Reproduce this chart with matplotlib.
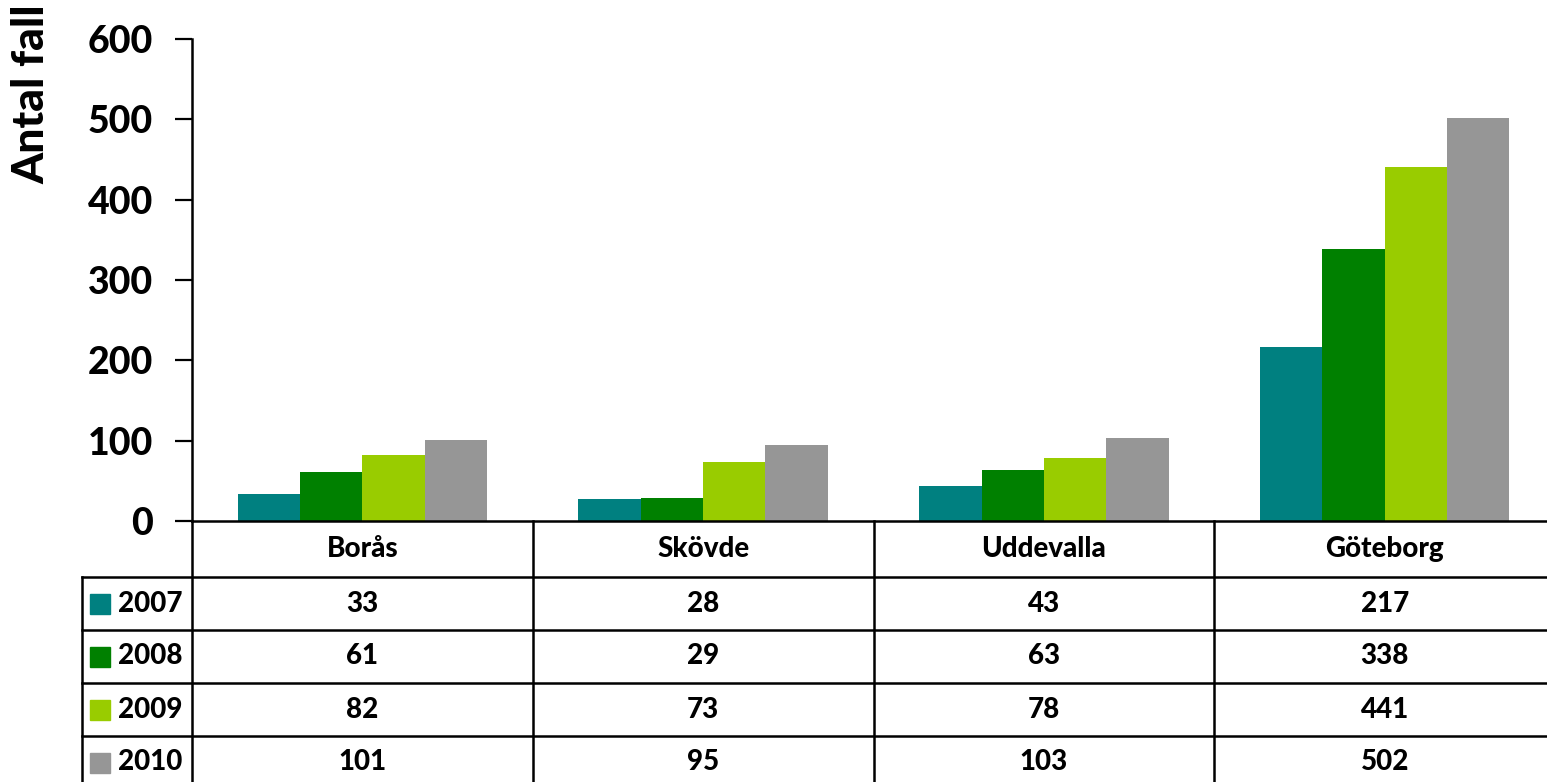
import matplotlib.pyplot as plt
from matplotlib.patches import Rectangle
import numpy as np

# data
cities = ['Borås', 'Skövde', 'Uddevalla', 'Göteborg']
years = ['2007', '2008', '2009', '2010']
v2007 = [33, 28, 43, 217]
v2008 = [61, 29, 63, 338]
v2009 = [82, 73, 78, 441]
v2010 = [101, 95, 103, 502]
colors = ['#008080', '#008000', '#99CC00', '#969696']
series = [v2007, v2008, v2009, v2010]

plt.rcParams['font.family'] = ['Lato', 'DejaVu Sans']
plt.rcParams['font.weight'] = 'black'

W, H = 1547, 782
fig = plt.figure(figsize=(W / 100, H / 100), dpi=100)

# main plot area (pixel layout)
px_left, px_right, px_zero, px_top = 192, 1555, 521, 39
ax = fig.add_axes([px_left / W, 1 - px_zero / H,
                   (px_right - px_left) / W, (px_zero - px_top) / H])

x = np.arange(len(cities))
bw = 0.183
for i, (vals, c) in enumerate(zip(series, colors)):
    ax.bar(x + (i - 1.5) * bw, vals, bw, color=c, linewidth=0)

ax.set_xlim(-0.5, len(cities) - 0.5)
ax.set_ylim(0, 600)
ax.set_xticks([])
ax.set_yticks(range(0, 601, 100))
ax.tick_params(axis='y', length=12, width=1.6, pad=16, labelsize=27)
for s in ['top', 'right']:
    ax.spines[s].set_visible(False)
for s in ['left', 'bottom']:
    ax.spines[s].set_linewidth(1.8)
ax.spines['bottom'].set_capstyle('projecting')

fig.text(31 / W, 1 - 94 / H, 'Antal fall', rotation=90, ha='center', va='center',
         fontsize=32, fontweight='black')

# data table under the chart
cat_px = (px_right - px_left) / len(cities)
label_px = px_left - 82
head_h, row_h = 56, 53
tab_h = head_h + row_h * len(years)
tax = fig.add_axes([82 / W, 1 - (px_zero + tab_h) / H,
                    (px_right - 82) / W, tab_h / H])
xl = -0.5 - label_px / cat_px
tax.set_xlim(xl, len(cities) - 0.5)
tax.set_ylim(tab_h, 0)
tax.axis('off')

lw = 1.8
for k in range(len(years) + 1):
    yy = head_h + k * row_h
    tax.plot([xl, len(cities) - 0.5], [yy, yy], color='black', lw=lw, clip_on=False)
for k in range(len(cities)):
    tax.plot([k - 0.5, k - 0.5], [0, tab_h], color='black', lw=lw, clip_on=False)
tax.plot([xl, xl], [head_h, tab_h], color='black', lw=lw, clip_on=False)

fs = 20
for j, name in enumerate(cities):
    tax.text(j, head_h / 2, name, ha='center', va='center', fontsize=fs, fontweight='black')

sq = 20
for i, (yr, vals, c) in enumerate(zip(years, series, colors)):
    yc = head_h + (i + 0.5) * row_h
    tax.add_patch(Rectangle((xl + 8 / cat_px, yc - sq / 2), sq / cat_px, sq,
                            color=c, clip_on=False))
    tax.text(xl + 36 / cat_px, yc, yr, ha='left', va='center', fontsize=fs, fontweight='black')
    for j, v in enumerate(vals):
        tax.text(j, yc, str(v), ha='center', va='center', fontsize=fs, fontweight='black')

fig.savefig('out.png', dpi=100)
